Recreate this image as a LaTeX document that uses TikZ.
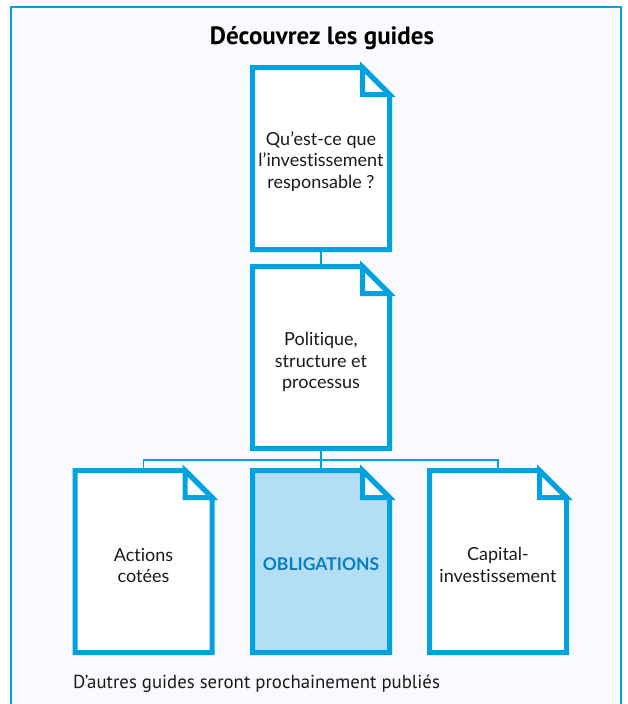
\documentclass[tikz,border=0pt]{standalone}
\usepackage{fontspec}
\setmainfont{Lato}[Ligatures=NoCommon]
\newfontfamily\ptsans{PT Sans}
\definecolor{docblue}{HTML}{00A3E0}
\definecolor{oblfill}{HTML}{B2DFF6}
\definecolor{obltext}{HTML}{0A7DC2}
\definecolor{bgpaper}{HTML}{F8FAFD}
\definecolor{txt}{HTML}{1A1A1A}
\pgfdeclarelayer{background}
\pgfdeclarelayer{shapes}
\pgfsetlayers{background,shapes,main}
\tikzset{
  docnode/.style={minimum width=137pt, minimum height=182pt, inner sep=0pt, outer sep=0pt,
    align=center, font=\fontsize{18}{21.5}\selectfont, text=txt},
  oblnode/.style={docnode, text=obltext, font=\bfseries\fontsize{17.5}{21.5}\selectfont},
  docline/.style={draw=docblue, line width=5pt, line join=miter},
  link/.style={draw=docblue, line width=1.8pt},
}
% text lowered so that its visual centre sits #1 below the node centre
\newcommand{\dtext}[2]{\raisebox{\dimexpr-4.6pt-#1\relax}[0pt][0pt]{\begin{tabular}{@{}c@{}}#2\end{tabular}}}
\newcommand{\docshape}[2]{%
  \path[docline, fill=#2] (#1.south west) -- (#1.north west) -- ([xshift=-27pt]#1.north east)
     -- ([yshift=-27pt]#1.north east) -- (#1.south east) -- cycle;
  \path[docline, fill=white] ([xshift=-27pt]#1.north east) -- ([xshift=-27pt,yshift=-27pt]#1.north east)
     -- ([yshift=-27pt]#1.north east) -- cycle;
}
\begin{document}
\begin{tikzpicture}[x=1pt, y=-1pt]
\useasboundingbox (0,0) rectangle (627,704);
\node[font=\ptsans\bfseries\fontsize{25}{30}\selectfont, text=black] (title) at (322,38) {Découvrez les guides};
\node[docnode] (d1) at (321,158.5) {\dtext{3.5pt}{Qu’est-ce que\\l’investissement\\responsable ?}};
\node[docnode] (d2) at (321,357.5) {\dtext{5pt}{Politique,\\structure et\\processus}};
\node[docnode] (d3) at (143.5,561.5) {\dtext{6pt}{Actions\\cotées}};
\node[oblnode] (d4) at (321,561.5) {\dtext{4.5pt}{OBLIGATIONS}};
\node[docnode] (d5) at (498,561.5) {\dtext{5.5pt}{Capital-\\investissement}};
\node[anchor=west, font=\ptsans\fontsize{18.8}{22}\selectfont, text=txt, inner sep=0pt] (foot) at (73,684) {D’autres guides seront prochainement publiés};
\coordinate (bus) at (321,460);
\begin{pgfonlayer}{background}
\fill[white] (0,0) rectangle (627,704);
\fill[bgpaper] (11,7) rectangle (621,710);
\draw[docblue, line width=1.5pt] (11,720) -- (11,7) -- (621,7) -- (621,720);
\draw[link] (d1.south) -- (d2.north);
\draw[link] (d2.south) -- (bus);
\draw[link] (d3.north) |- (bus) -| (d5.north);
\draw[link] (bus) -- (d4.north);
\end{pgfonlayer}
\begin{pgfonlayer}{shapes}
\docshape{d1}{white}
\docshape{d2}{white}
\docshape{d3}{white}
\docshape{d4}{oblfill}
\docshape{d5}{white}
\end{pgfonlayer}
\end{tikzpicture}
\end{document}
